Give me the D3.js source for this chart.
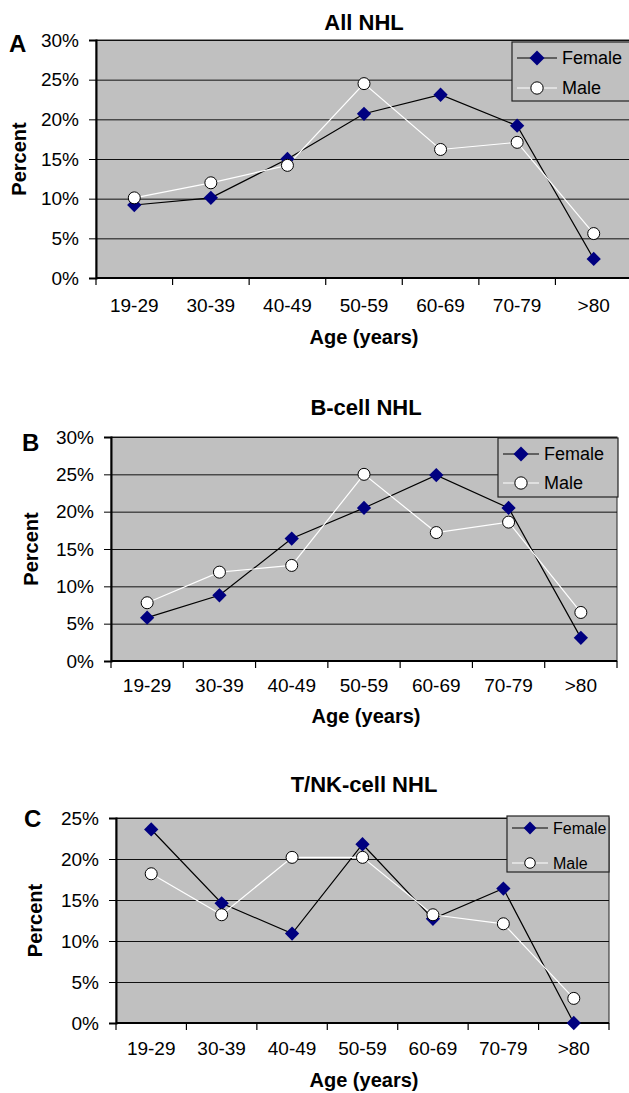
<!DOCTYPE html>
<html>
<head>
<meta charset="utf-8">
<script src="https://cdn.jsdelivr.net/npm/d3@7"></script>
<style>
  body { margin: 0; background: #fff; }
  svg { display: block; font-family: "Liberation Sans", Arial, sans-serif; }
</style>
</head>
<body>
<svg id="chart" width="629" height="1093"></svg>
<script>
const ageGroups = ["19-29", "30-39", "40-49", "50-59", "60-69", "70-79", ">80"];

const allFemale = [9.2, 10.1, 15.0, 20.7, 23.1, 19.2, 2.4];
const allMale = [10.1, 12.0, 14.2, 24.5, 16.2, 17.1, 5.6];

const bFemale = [5.8, 8.8, 16.4, 20.5, 24.9, 20.5, 3.1];
const bMale = [7.8, 11.9, 12.8, 25.0, 17.2, 18.6, 6.5];

const tFemale = [23.6, 14.6, 10.9, 21.8, 12.7, 16.4, 0.0];
const tMale = [18.2, 13.2, 20.2, 20.2, 13.2, 12.1, 3.0];

const ticks30 = [0, 5, 10, 15, 20, 25, 30];
const ticks25 = [0, 5, 10, 15, 20, 25];

const seriesNames = ["Female", "Male"];
const titles = ["All NHL", "B-cell NHL", "T/NK-cell NHL"];
const letters = ["A", "B", "C"];

const svg = d3.select("#chart");

function drawPanel(p) {
  const x = d3.scaleBand().domain(ageGroups).range([p.left, p.right]);
  const y = d3.scaleLinear().domain([0, d3.max(p.ticks)]).range([p.bottom, p.top]);
  const g = svg.append("g");

  // plot area
  g.append("rect")
    .attr("x", p.left).attr("y", p.top)
    .attr("width", p.right - p.left).attr("height", p.bottom - p.top)
    .attr("fill", "#c0c0c0")
    .attr("stroke", "#222").attr("stroke-width", 1);

  // gridlines
  g.selectAll(".grid")
    .data(p.ticks.filter(d => d > 0))
    .enter().append("line")
    .attr("x1", p.left).attr("x2", p.right)
    .attr("y1", d => y(d) + 0.5).attr("y2", d => y(d) + 0.5)
    .attr("stroke", "#111").attr("stroke-width", 1);

  // y axis
  const yAxis = g.append("g")
    .attr("transform", "translate(" + p.left + ",0)")
    .call(d3.axisLeft(y).tickValues(p.ticks).tickFormat(d => d + "%").tickSize(7).tickPadding(10));
  yAxis.select(".domain").attr("stroke", "#000").attr("stroke-width", 2);
  yAxis.selectAll(".tick line").attr("stroke", "#000");
  yAxis.selectAll("text").style("font-size", "19px").attr("fill", "#000");

  // x axis, ticks at band edges
  const xAxis = g.append("g")
    .attr("transform", "translate(0," + p.bottom + ")");
  xAxis.append("line")
    .attr("x1", p.left).attr("x2", p.right)
    .attr("stroke", "#000").attr("stroke-width", 2);
  const edges = ageGroups.map(d => x(d)).concat([p.right]);
  xAxis.selectAll(".xt")
    .data(edges)
    .enter().append("line")
    .attr("x1", d => d).attr("x2", d => d)
    .attr("y1", 0).attr("y2", 7)
    .attr("stroke", "#000").attr("stroke-width", 1.2);
  xAxis.selectAll(".xl")
    .data(ageGroups)
    .enter().append("text")
    .attr("x", d => x(d) + x.bandwidth() / 2)
    .attr("y", p.xLabelY - p.bottom)
    .attr("text-anchor", "middle")
    .style("font-size", "19px")
    .text(d => d);

  // series
  const cx = (d, i) => x(ageGroups[i]) + x.bandwidth() / 2;
  const line = d3.line().x(cx).y(d => y(d));

  g.append("path").datum(p.female)
    .attr("d", line).attr("fill", "none")
    .attr("stroke", "#000").attr("stroke-width", 1.2);
  g.append("path").datum(p.male)
    .attr("d", line).attr("fill", "none")
    .attr("stroke", "#fff").attr("stroke-width", 1.2);

  const diamond = d3.symbol().type(d3.symbolDiamond2).size(130);
  g.selectAll(".fem")
    .data(p.female)
    .enter().append("path")
    .attr("d", diamond)
    .attr("transform", (d, i) => "translate(" + cx(d, i) + "," + y(d) + ")")
    .attr("fill", "#000080");

  g.selectAll(".mal")
    .data(p.male)
    .enter().append("circle")
    .attr("cx", cx).attr("cy", d => y(d))
    .attr("r", 6)
    .attr("fill", "#fff").attr("stroke", "#000").attr("stroke-width", 1);

  // legend
  const lg = g.append("g");
  lg.append("rect")
    .attr("x", p.legend.x).attr("y", p.legend.y)
    .attr("width", p.legend.w).attr("height", p.legend.h)
    .attr("fill", "#c0c0c0").attr("stroke", "#222").attr("stroke-width", 1.2);
  seriesNames.forEach(function(name, i) {
    const ly = p.legend.rows[i];
    lg.append("line")
      .attr("x1", p.legend.x + 5).attr("x2", p.legend.x + 5 + p.legend.lineW)
      .attr("y1", ly).attr("y2", ly)
      .attr("stroke", i === 0 ? "#000" : "#fff").attr("stroke-width", 1.2);
    const mx = p.legend.x + 5 + p.legend.lineW / 2;
    if (i === 0) {
      lg.append("path")
        .attr("d", d3.symbol().type(d3.symbolDiamond2).size(p.legend.ms * 1.3))
        .attr("transform", "translate(" + mx + "," + ly + ")")
        .attr("fill", "#000080");
    } else {
      lg.append("circle")
        .attr("cx", mx).attr("cy", ly).attr("r", Math.sqrt(p.legend.ms) / 1.7)
        .attr("fill", "#fff").attr("stroke", "#000");
    }
    lg.append("text")
      .attr("x", p.legend.x + 10 + p.legend.lineW)
      .attr("y", ly)
      .attr("dy", "0.35em")
      .style("font-size", p.legend.fs + "px")
      .text(name);
  });

  // titles
  g.append("text")
    .attr("x", p.titleX).attr("y", p.titleY)
    .attr("text-anchor", "middle")
    .style("font-size", "22px").style("font-weight", "bold")
    .text(p.title);

  g.append("text")
    .attr("x", p.letterX).attr("y", p.letterY)
    .style("font-size", "24px").style("font-weight", "bold")
    .text(p.letter);

  g.append("text")
    .attr("x", p.titleX).attr("y", p.xTitleY)
    .attr("text-anchor", "middle")
    .style("font-size", "20px").style("font-weight", "bold")
    .text("Age (years)");

  g.append("text")
    .attr("transform", "translate(" + p.yTitleX + "," + (p.top + p.bottom) / 2 + ") rotate(-90)")
    .attr("text-anchor", "middle")
    .style("font-size", "20px").style("font-weight", "bold")
    .text("Percent");
}

drawPanel({
  female: allFemale, male: allMale, ticks: ticks30,
  title: titles[0], letter: letters[0],
  left: 96, right: 632, top: 40, bottom: 278,
  xLabelY: 312, xTitleY: 344, titleX: 364, titleY: 30,
  letterX: 9, letterY: 52, yTitleX: 26,
  legend: { x: 512, y: 42, w: 130, h: 59, rows: [58, 88], lineW: 40, ms: 110, fs: 18 }
});

drawPanel({
  female: bFemale, male: bMale, ticks: ticks30,
  title: titles[1], letter: letters[1],
  left: 111, right: 617, top: 437, bottom: 661,
  xLabelY: 692, xTitleY: 723, titleX: 366, titleY: 415,
  letterX: 22, letterY: 451, yTitleX: 38,
  legend: { x: 498, y: 438, w: 120, h: 59, rows: [454, 483], lineW: 36, ms: 110, fs: 18 }
});

drawPanel({
  female: tFemale, male: tMale, ticks: ticks25,
  title: titles[2], letter: letters[2],
  left: 116, right: 609, top: 818, bottom: 1023,
  xLabelY: 1055, xTitleY: 1087, titleX: 364, titleY: 792,
  letterX: 24, letterY: 827, yTitleX: 42,
  legend: { x: 507, y: 816, w: 102, h: 56, rows: [828, 863], lineW: 36, ms: 80, fs: 16 }
});
</script>
</body>
</html>
